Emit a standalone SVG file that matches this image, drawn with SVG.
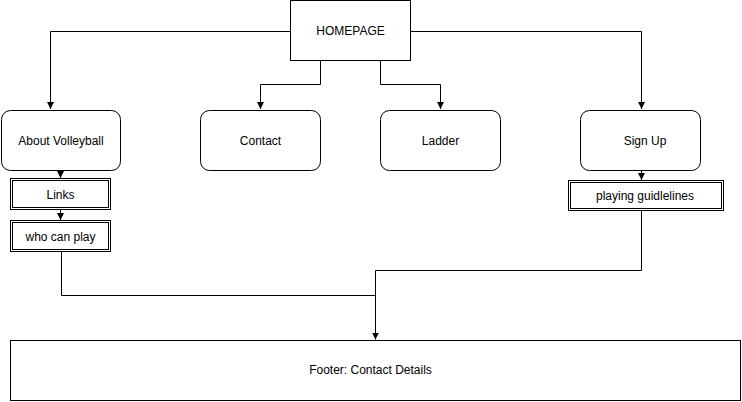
<svg xmlns="http://www.w3.org/2000/svg" width="742" height="402" viewBox="0 0 742 402">
<style>
.box{fill:#fff;stroke:#000;stroke-width:1}
.t{font-family:"Liberation Sans",Arial,sans-serif;font-size:12px;fill:#000;text-anchor:middle;dominant-baseline:central}
.c{fill:none;stroke:#000;stroke-width:1}
</style>
<defs>
<marker id="ah" markerWidth="8" markerHeight="8" refX="7" refY="4" orient="auto" markerUnits="userSpaceOnUse">
<path d="M0,0.5 L7,4 L0,7.5 Z" fill="#000"/>
</marker>
</defs>
<rect width="742" height="402" fill="#fff"/>
<g id="connectors">
<path class="c" d="M290.5,31.5 H50.5 V109" marker-end="url(#ah)"/>
<path class="c" d="M320.5,60.5 V84.5 H260.5 V109" marker-end="url(#ah)"/>
<path class="c" d="M380.5,60.5 V84.5 H440.5 V109" marker-end="url(#ah)"/>
<path class="c" d="M410.5,31.5 H641.5 V109" marker-end="url(#ah)"/>
<path class="c" d="M60.5,170.5 V178" marker-end="url(#ah)"/>
<path class="c" d="M60.5,209.5 V220" marker-end="url(#ah)"/>
<path class="c" d="M641.5,170.5 V180" marker-end="url(#ah)"/>
<path class="c" d="M61.5,251.5 V295.5 H375.5"/>
<path class="c" d="M641.5,210.5 V270.5 H375.5 V339.5" marker-end="url(#ah)"/>
</g>
<g id="homepage">
<rect class="box" x="290.5" y="0.5" width="120" height="60"/>
<text class="t" x="350.5" y="30.5">HOMEPAGE</text>
</g>
<g id="about">
<rect class="box" x="1.5" y="110.5" width="119" height="60" rx="9"/>
<text class="t" x="61" y="140.5">About Volleyball</text>
</g>
<g id="contact">
<rect class="box" x="200.5" y="110.5" width="120" height="60" rx="9"/>
<text class="t" x="260.5" y="140.5">Contact</text>
</g>
<g id="ladder">
<rect class="box" x="380.5" y="110.5" width="120" height="60" rx="9"/>
<text class="t" x="440.5" y="140.5">Ladder</text>
</g>
<g id="signup">
<rect class="box" x="580.5" y="110.5" width="120" height="60" rx="9"/>
<text class="t" x="645" y="140.5">Sign Up</text>
</g>
<g id="links">
<rect class="box" x="10.5" y="178.5" width="100" height="31"/>
<rect class="box" x="12.5" y="180.5" width="96" height="27"/>
<text class="t" x="60.5" y="194.5">Links</text>
</g>
<g id="whocanplay">
<rect class="box" x="10.5" y="220.5" width="100" height="31"/>
<rect class="box" x="12.5" y="222.5" width="96" height="27"/>
<text class="t" x="60.5" y="236.5">who can play</text>
</g>
<g id="guidelines">
<rect class="box" x="568.5" y="180.5" width="155" height="30"/>
<rect class="box" x="570.5" y="182.5" width="151" height="26"/>
<text class="t" x="645" y="195.5">playing guidlelines</text>
</g>
<g id="footer">
<rect class="box" x="10.5" y="340.5" width="730" height="60"/>
<text class="t" x="370.5" y="369.5">Footer: Contact Details</text>
</g>
</svg>
